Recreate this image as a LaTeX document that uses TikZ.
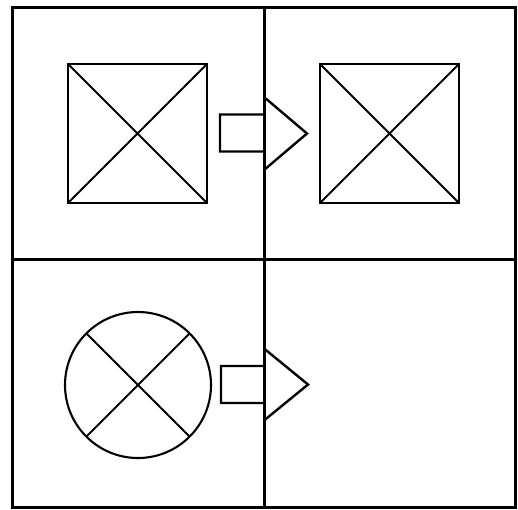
\documentclass[tikz,border=0pt]{standalone}
\usetikzlibrary{positioning}

\begin{document}
\begin{tikzpicture}[x=1pt,y=-1pt,node distance=252pt,line join=miter,
  frame/.style={draw,line width=3pt},
  block arrow/.style={draw,line width=2.4pt},
  cross lines/.style={path picture={
    \draw[line width=2pt] (path picture bounding box.north west) -- (path picture bounding box.south east)
      (path picture bounding box.north east) -- (path picture bounding box.south west);}},
  box node/.style={rectangle,draw,line width=2.5pt,minimum size=139pt,inner sep=0pt,cross lines},
  ring node/.style={circle,draw,line width=2.1pt,minimum size=146pt,inner sep=0pt,cross lines}]

\useasboundingbox (0,0) rectangle (518,509);

%frame and dividers
\path[frame] (12,7) rectangle (515,507);
\path[frame] (264,7) -- (264,507);
\path[frame] (12,259) -- (515,259);

%symbols
\node[box node] (1) at (137.5,133.5) {};
\node[box node] (2) [right of=1] {};
\node[ring node] (3) [below of=1,node distance=251.5pt,xshift=0.5pt] {};

%arrows sit on the divider
\coordinate (4) at (264,133.5);
\coordinate (5) at (264,384.5);
\path[block arrow] (4) ++(0,-19) -- ++(-44,0) -- ++(0,37) -- ++(44,0)
  (4) ++(0,-36.5) -- ++(43,36.5) -- ++(-43,36.5);
\path[block arrow] (5) ++(0,-18.5) -- ++(-43,0) -- ++(0,37) -- ++(43,0)
  (5) ++(0,-36) -- ++(44,36) -- ++(-44,36);

\end{tikzpicture}
\end{document}
